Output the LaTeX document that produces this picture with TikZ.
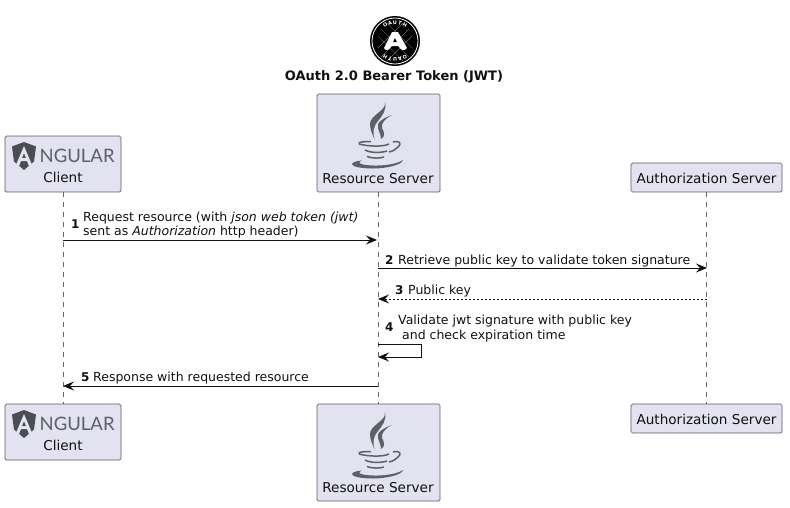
\documentclass[tikz,border=0pt]{standalone}
\usepackage{fontspec}
\setmainfont{DejaVu Sans}
\newfontfamily\logofont{Lato}
\usetikzlibrary{arrows.meta,positioning}
\definecolor{actorfill}{HTML}{E2E2F0}
\definecolor{actorline}{HTML}{5A5A66}
\definecolor{lifegray}{HTML}{666666}
\definecolor{ink}{HTML}{111111}
\definecolor{logogray}{HTML}{5F5F68}
\tikzset{
  actor/.style={
    rounded corners=1.5pt,
    draw=actorline,
    line width=0.7pt,
    fill=actorfill,
    inner sep=0pt
  },
  actorname/.style={font=\fontsize{13.6}{16}\selectfont, text=ink, inner sep=0pt, anchor=base},
  lifeline/.style={draw=lifegray, line width=0.6pt, dash pattern=on 5pt off 5pt},
  msg/.style={-{Stealth[length=11pt, width=9pt, inset=4pt]}, line width=0.9pt, draw=ink},
  reply/.style={msg, dash pattern=on 2pt off 2pt},
  msgtext/.style={font=\fontsize{12.5}{15}\selectfont, text=ink, inner sep=0pt, anchor=base west},
  msgnum/.style={msgtext, font=\fontsize{12}{15}\selectfont\bfseries},
  oauthletter/.style={font=\fontsize{5}{5}\selectfont\bfseries, text=white, inner sep=0pt},
  angularlogo/.pic={
    \fill[logogray!80!black] (0,-14) -- (12,-9.5) -- (10,5.5) -- (0,14) -- (-10,5.5) -- (-12,-9.5) -- cycle;
    \fill[actorfill, even odd rule] (0,-10) -- (8.5,10) -- (5,10) -- (3,5) -- (-3,5) -- (-5,10) -- (-8.5,10) -- cycle
      (0,-3) -- (-2,2) -- (2,2) -- cycle;
    \node[font=\logofont\fontsize{18.5}{20}\selectfont, text=logogray, anchor=base west, inner sep=0pt] (-ngular) at (15.5,6.5) {NGULAR};
  },
  javalogo/.pic={
    % steam
    \fill[logogray] (7,-37) .. controls (9,-28) and (-9,-24) .. (-8,-14) .. controls (-7.5,-8) and (-5,-3) .. (-3,1)
      .. controls (-6,-6) and (-5,-12) .. (0,-18) .. controls (4,-23) and (9,-29) .. (7,-37) -- cycle;
    \fill[logogray] (14,-24) .. controls (6,-21) and (-2,-17) .. (0,-11) .. controls (1,-7) and (3,-4) .. (3,0)
      .. controls (8,-3) and (6,-7) .. (4,-11) .. controls (3,-15) and (6,-20) .. (14,-24) -- cycle;
    % cup
    \draw[logogray, line width=1.5pt] (-7,2.5) .. controls (-14,2.5) and (-20,3) .. (-19,4.5);
    \draw[logogray, line width=1.5pt] (-19,5) .. controls (-10,7.5) and (5,8) .. (11,5);
    \draw[logogray, line width=1.5pt] (15,3) .. controls (22,1) and (24,5) .. (20,8) .. controls (18,10.5) and (15,12) .. (11,13);
    \draw[logogray, line width=1.5pt] (-13,11) .. controls (-8,14) and (3,14) .. (9,12);
    \draw[logogray, line width=1.5pt] (-11,17.5) .. controls (-6,19.5) and (2,19.5) .. (6,18);
    \fill[logogray] (-26,25) .. controls (-25,22.5) and (-20,22) .. (-16,21.5) .. controls (-20,23) and (-20,25) .. (-12,26)
      .. controls (0,27.5) and (18,26) .. (25,21) .. controls (24,26) and (8,29.5) .. (-5,29.5) .. controls (-15,29.5) and (-26,28) .. (-26,25) -- cycle;
  },
  oauthlogo/.pic={
    \fill[black] (0,0) circle (25);
    \draw[white, line width=0.8pt] (0,0) circle (23);
    \draw[white!55!black, line width=0.35pt] (-14,-12) -- (14,16) (-17,-5) -- (8,20) (-8,-18) -- (17,7)
      (14,-12) -- (-14,16) (17,-5) -- (-8,20) (8,-18) -- (-17,7);
    \fill[white] (-3,-9) -- (3,-9) -- (12,7) .. controls (10,10) and (6,10) .. (3.5,5) -- (-3.5,5)
      .. controls (-6,10) and (-10,10) .. (-11,7) -- cycle;
    \fill[black] (0,-3) -- (-1.8,1) -- (1.8,1) -- cycle;
    \foreach \ch/\k in {O/-2,A/-1,U/0,T/1,H/2} {
      \node[oauthletter, rotate=-\k*16] (-top\ch) at (-90+\k*16:18.5) {\ch};
      \node[oauthletter, rotate=180-\k*16] (-bot\ch) at (90+\k*16:18.5) {\ch};
    }
  }
}
\begin{document}
\begin{tikzpicture}[x=1pt, y=-1pt]
  \useasboundingbox (0,0) rectangle (790,507);

  \pic (seal) at (395,41) {oauthlogo};
  \node[font=\fontsize{13}{15}\selectfont\bfseries, text=ink, inner sep=0pt, anchor=base] (title) at (394,80)
    {OAuth 2.0 Bearer Token (JWT)};

  % participants, top and bottom row
  \node[actor, minimum width=116pt, minimum height=56pt] (client) at (63,164) {};
  \node[actor, minimum width=123pt, minimum height=98pt] (resource) at (378.5,143) {};
  \node[actor, minimum width=151pt, minimum height=29pt] (auth) at (706.5,177.5) {};
  \node[actor, minimum width=116pt, minimum height=56pt] (clientb) at (63,432) {};
  \node[actor, minimum width=123pt, minimum height=97pt] (resourceb) at (378.5,452.5) {};
  \node[actor, minimum width=151pt, minimum height=29pt] (authb) at (706.5,418.5) {};

  \node[actorname] (clientname) at (63,182) {Client};
  \node[actorname] (resourcename) at (378,183) {Resource Server};
  \node[actorname] (authname) at (706.5,183) {Authorization Server};
  \node[actorname] (clientbname) at (63,450) {Client};
  \node[actorname] (resourcebname) at (378,492) {Resource Server};
  \node[actorname] (authbname) at (706.5,424) {Authorization Server};

  \pic (ngtop) at (24,156) {angularlogo};
  \pic (ngbot) at (24,424) {angularlogo};
  \pic at (378,139) {javalogo};
  \pic at (378,449) {javalogo};

  \draw[lifeline] (client) -- (clientb);
  \draw[lifeline] (resource) -- (resourceb);
  \draw[lifeline] (auth) -- (authb);

  % messages
  \coordinate (c1) at (63,240);
  \coordinate (r1) at (377,240);
  \coordinate (r2) at (378,268);
  \coordinate (a2) at (707,268);
  \coordinate (a3) at (707,299);
  \coordinate (r3) at (378,299);
  \coordinate (s4) at (378,344);
  \coordinate (t4) at (421,344);
  \coordinate (u4) at (421,357);
  \coordinate (v4) at (378,357);
  \coordinate (r5) at (378,386);
  \coordinate (c5) at (63,386);

  \draw[msg] (c1) -- (r1);
  \draw[msg] (r2) -- (a2);
  \draw[reply] (a3) -- (r3);
  \draw[msg] (s4) -- (t4) -- (u4) -- (v4);
  \draw[msg] (r5) -- (c5);

  \node[msgnum] (n1) at (71,228) {1};
  \node[msgtext] (m1a) at (83,221) {Request resource (with \emph{json web token (jwt)}};
  \node[msgtext] (m1b) at (83,235) {sent as \emph{Authorization} http header)};
  \node[msgnum] (n2) at (385,264.5) {2};
  \node[msgtext] (m2) at (398,264.5) {Retrieve public key to validate token signature};
  \node[msgnum] (n3) at (395,294) {3};
  \node[msgtext] (m3) at (408,294) {Public key};
  \node[msgnum] (n4) at (385,331) {4};
  \node[msgtext] (m4a) at (398,324.5) {Validate jwt signature with public key};
  \node[msgtext] (m4b) at (402,339) {and check expiration time};
  \node[msgnum] (n5) at (81,381) {5};
  \node[msgtext] (m5) at (93,381) {Response with requested resource};
\end{tikzpicture}
\end{document}
